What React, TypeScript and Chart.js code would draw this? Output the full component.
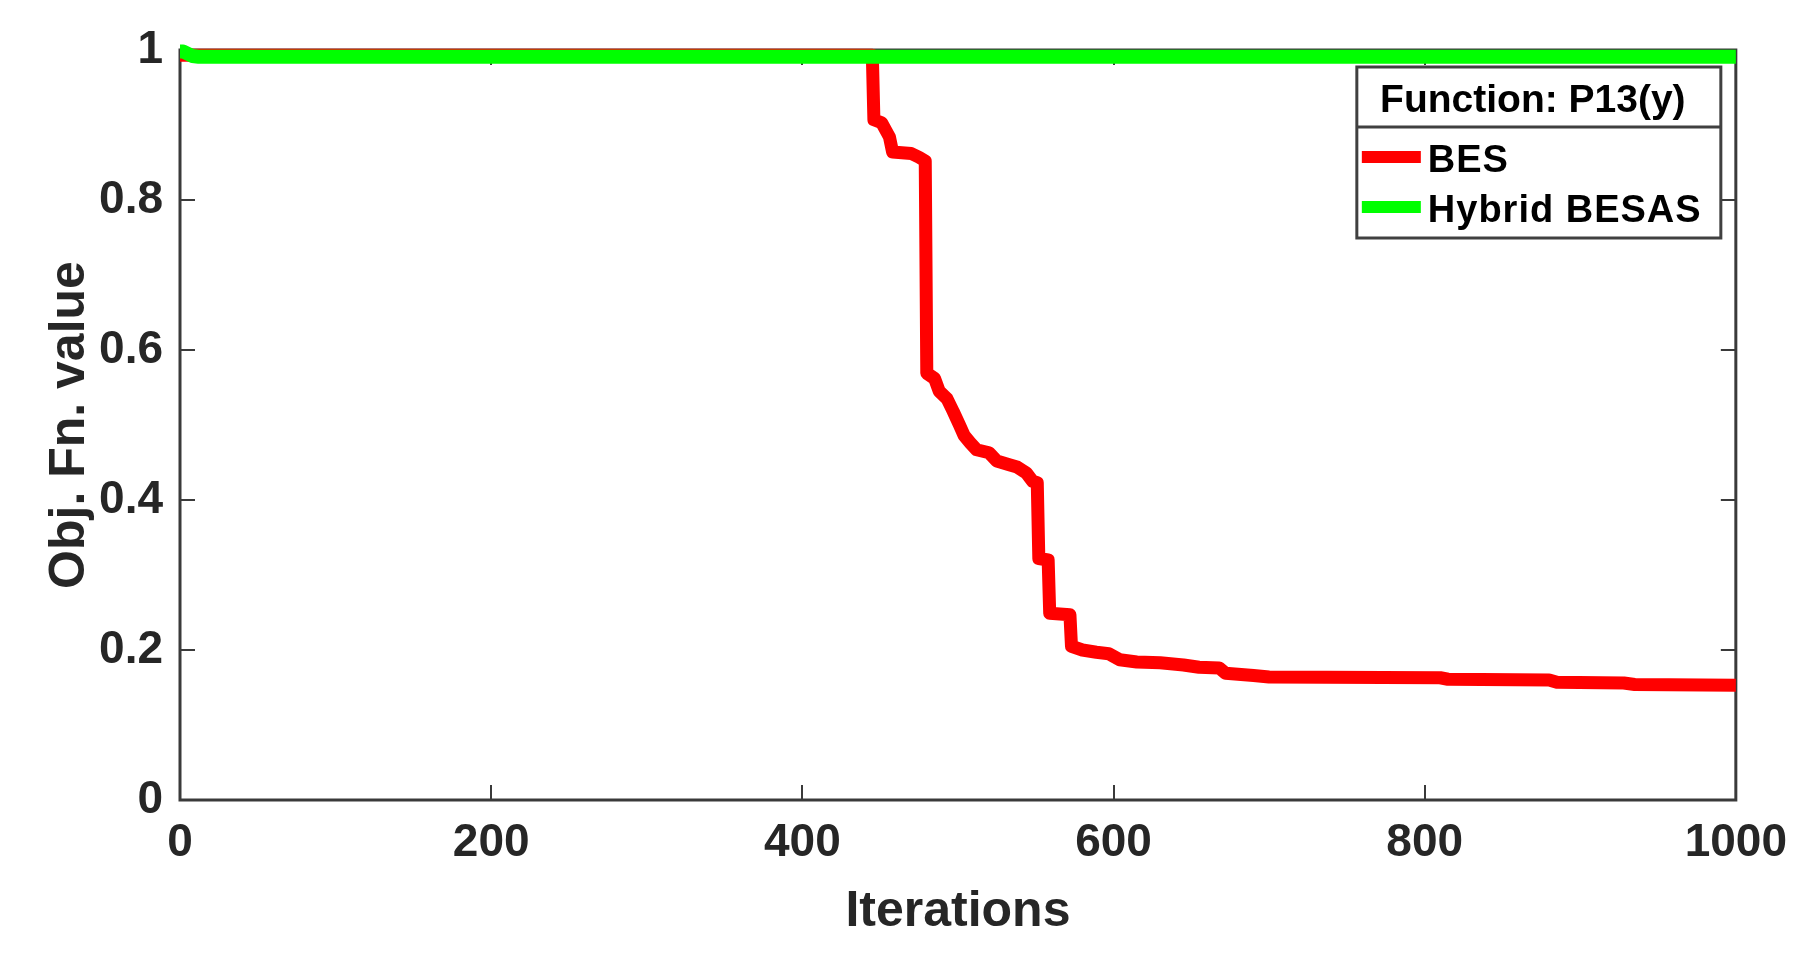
import React, { useEffect, useRef } from "react";
import { Chart, registerables } from "chart.js";

Chart.register(...registerables);

// ---- data ----
const besIterations = [
  0, 445, 446, 451, 456, 458, 470, 475, 479, 480, 485, 488, 493, 497, 501, 504, 508, 512, 520, 525,
  533, 538, 544, 548, 551, 552, 558, 559, 572, 573, 580, 589, 597, 604, 615, 630, 645, 655, 668, 672,
  690, 700, 810, 815, 880, 885, 928, 935, 1000,
];
const besValues = [
  0.993, 0.993, 0.907, 0.903, 0.884, 0.864, 0.862, 0.857, 0.852, 0.569, 0.562, 0.545, 0.535, 0.518, 0.5,
  0.486, 0.476, 0.467, 0.463, 0.452, 0.447, 0.444, 0.436, 0.425, 0.423, 0.322, 0.32, 0.249, 0.247, 0.205,
  0.2, 0.197, 0.195, 0.187, 0.184, 0.183, 0.18, 0.177, 0.176, 0.169, 0.166, 0.164, 0.163, 0.161, 0.16,
  0.157, 0.156, 0.154, 0.153,
];
const hybridIterations = [0, 2, 5, 8, 12, 1000];
const hybridValues = [0.998, 0.998, 0.995, 0.992, 0.991, 0.991];

const seriesNames = ["BES", "Hybrid BESAS"];
const seriesColors = ["#ff0000", "#00ff00"];
const legendTitle = "Function: P13(y)";
const xTitle = "Iterations";
const yTitle = "Obj. Fn. value";
const xTickValues = [0, 200, 400, 600, 800, 1000];
const xTickLabels = ["0", "200", "400", "600", "800", "1000"];
const yTickValues = [0, 0.2, 0.4, 0.6, 0.8, 1];
const yTickLabels = ["0", "0.2", "0.4", "0.6", "0.8", "1"];

const FONT = "'Liberation Sans', Arial, sans-serif";
const AXIS_COLOR = "#3a3a3a";
const TEXT_COLOR = "#262626";

const framePlugin = {
  id: "frame",
  beforeDatasetsDraw(chart: any) {
    const { ctx, chartArea, scales } = chart;
    const { left, right, top, bottom } = chartArea;
    ctx.save();
    ctx.strokeStyle = AXIS_COLOR;
    ctx.lineWidth = 2;
    const tl = 15;
    xTickValues.forEach((v) => {
      const px = Math.round(scales.x.getPixelForValue(v));
      ctx.beginPath();
      ctx.moveTo(px, bottom);
      ctx.lineTo(px, bottom - tl);
      ctx.moveTo(px, top);
      ctx.lineTo(px, top + tl);
      ctx.stroke();
    });
    yTickValues.forEach((v) => {
      const py = Math.round(scales.y.getPixelForValue(v));
      ctx.beginPath();
      ctx.moveTo(left, py);
      ctx.lineTo(left + tl, py);
      ctx.moveTo(right, py);
      ctx.lineTo(right - tl, py);
      ctx.stroke();
    });
    ctx.lineWidth = 3;
    ctx.strokeRect(left, top, right - left, bottom - top);
    ctx.restore();
  },
};

const legendPlugin = {
  id: "boxLegend",
  afterDatasetsDraw(chart: any) {
    const { ctx, chartArea } = chart;
    const bx = chartArea.right - 379;
    const by = chartArea.top + 17;
    const bw = 364;
    const bh = 171;
    const sepY = by + 60;
    ctx.save();
    ctx.fillStyle = "#ffffff";
    ctx.fillRect(bx, by, bw, bh);
    ctx.strokeStyle = "#404040";
    ctx.lineWidth = 3;
    ctx.strokeRect(bx, by, bw, bh);
    ctx.beginPath();
    ctx.moveTo(bx, sepY);
    ctx.lineTo(bx + bw, sepY);
    ctx.stroke();

    ctx.fillStyle = "#000000";
    ctx.font = `bold 39px ${FONT}`;
    ctx.textAlign = "center";
    ctx.textBaseline = "middle";
    ctx.fillText(legendTitle, bx + bw / 2 - 6, by + 34);

    ctx.font = `bold 38px ${FONT}`;
    try {
      (ctx as any).letterSpacing = "1px";
    } catch (e) {}
    const rows = [by + 93, by + 143];
    chart.data.datasets.forEach((ds: any, i: number) => {
      const cy = rows[i];
      ctx.strokeStyle = ds.borderColor;
      ctx.lineWidth = 12;
      ctx.lineCap = "butt";
      ctx.beginPath();
      ctx.moveTo(bx + 5, cy - 3);
      ctx.lineTo(bx + 64, cy - 3);
      ctx.stroke();
      ctx.fillStyle = "#000000";
      ctx.textAlign = "left";
      ctx.fillText(ds.label, bx + 71, cy + 2);
    });
    ctx.restore();
  },
};

export default function App() {
  const ref = useRef<HTMLCanvasElement | null>(null);

  useEffect(() => {
    document.body.style.margin = "0";
    const canvas = ref.current;
    if (!canvas) return;
    const chart = new Chart(canvas, {
      type: "line",
      data: {
        datasets: [
          {
            label: seriesNames[0],
            data: besIterations.map((x, i) => ({ x, y: besValues[i] })),
            borderColor: seriesColors[0],
            backgroundColor: seriesColors[0],
            borderWidth: 13,
            pointRadius: 0,
            tension: 0,
            borderJoinStyle: "round",
            clip: false,
            order: 1,
          },
          {
            label: seriesNames[1],
            data: hybridIterations.map((x, i) => ({ x, y: hybridValues[i] })),
            borderColor: seriesColors[1],
            backgroundColor: seriesColors[1],
            borderWidth: 14,
            pointRadius: 0,
            tension: 0,
            borderJoinStyle: "round",
            clip: false,
            order: 0,
          },
        ],
      },
      options: {
        responsive: false,
        animation: false,
        devicePixelRatio: 1,
        events: [],
        layout: { padding: { top: 50, right: 66, bottom: 0, left: 0 } },
        plugins: {
          legend: { display: false },
          tooltip: { enabled: false },
        },
        scales: {
          x: {
            type: "linear",
            min: 0,
            max: 1000,
            afterBuildTicks: (scale: any) => {
              scale.ticks = xTickValues.map((value) => ({ value }));
            },
            afterFit: (scale: any) => {
              scale.height = 163;
            },
            ticks: {
              callback: (v: any) => xTickLabels[xTickValues.indexOf(Number(v))] ?? "",
              font: { family: FONT, size: 46, weight: "bold" },
              color: TEXT_COLOR,
              padding: 16,
              maxRotation: 0,
              autoSkip: false,
            },
            grid: { display: false, drawTicks: false },
            border: { display: false },
            title: {
              display: true,
              text: xTitle,
              font: { family: FONT, size: 50, weight: "bold" },
              color: TEXT_COLOR,
              padding: { top: 0, bottom: 21 },
            },
          },
          y: {
            type: "linear",
            min: 0,
            max: 1,
            afterBuildTicks: (scale: any) => {
              scale.ticks = yTickValues.map((value) => ({ value }));
            },
            afterFit: (scale: any) => {
              scale.width = 180;
            },
            ticks: {
              callback: (v: any) => {
                const idx = yTickValues.findIndex((t) => Math.abs(t - Number(v)) < 1e-9);
                return idx >= 0 ? yTickLabels[idx] : "";
              },
              font: { family: FONT, size: 46, weight: "bold" },
              color: TEXT_COLOR,
              padding: 17,
              autoSkip: false,
            },
            grid: { display: false, drawTicks: false },
            border: { display: false },
            title: {
              display: true,
              text: yTitle,
              font: { family: FONT, size: 50, weight: "bold" },
              color: TEXT_COLOR,
              padding: { top: 40, bottom: 0 },
            },
          },
        },
      },
      plugins: [framePlugin, legendPlugin],
    } as any);
    return () => chart.destroy();
  }, []);

  return (
    <div style={{ width: 1803, height: 963, background: "#ffffff" }}>
      <canvas ref={ref} width={1803} height={963} style={{ display: "block" }} />
    </div>
  );
}
